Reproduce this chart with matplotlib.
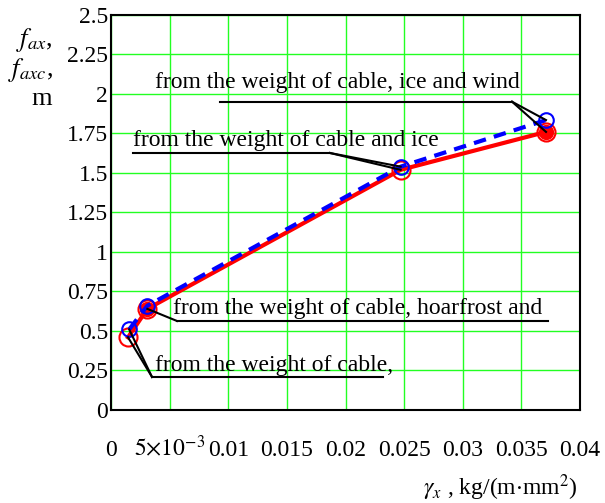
import matplotlib
matplotlib.use("Agg")
import matplotlib.pyplot as plt

plt.rcParams['font.family'] = ['Liberation Serif', 'DejaVu Serif']
plt.rcParams['mathtext.fontset'] = 'stix'

# Data
gamma_red = [0.00145, 0.0031, 0.0247, 0.0371]
f_red = [0.46, 0.64, 1.52, 1.76]
gamma_blue = [0.00155, 0.0031, 0.0247, 0.0371]
f_blue = [0.51, 0.66, 1.54, 1.835]

x_ticks = [0, 0.005, 0.01, 0.015, 0.02, 0.025, 0.03, 0.035, 0.04]
x_tick_labels = ["0", r"$5{\times}10^{-3}$", "0.01", "0.015", "0.02", "0.025", "0.03", "0.035", "0.04"]
y_ticks = [0, 0.25, 0.5, 0.75, 1, 1.25, 1.5, 1.75, 2, 2.25, 2.5]
y_tick_labels = ["0", "0.25", "0.5", "0.75", "1", "1.25", "1.5", "1.75", "2", "2.25", "2.5"]

labels = ["from the weight of cable, ice and wind",
          "from the weight of cable and ice",
          "from the weight of cable, hoarfrost and",
          "from the weight of cable,"]

FS = 17

fig = plt.figure(figsize=(6.05, 5.03), dpi=100)
ax = fig.add_axes([0.1835, 0.1849, 0.7752, 0.7853])
ax.set_xlim(0, 0.04)
ax.set_ylim(0, 2.5)

ax.grid(True, color='#22ff22', linewidth=1.0)
ax.set_axisbelow(True)
for s in ax.spines.values():
    s.set_color('black')
    s.set_linewidth(1.5)

ax.set_xticks(x_ticks)
ax.set_xticklabels(x_tick_labels, fontsize=FS)
for t in ax.get_xticklabels():
    t.set_verticalalignment('baseline')
ax.set_yticks(y_ticks)
ax.set_yticklabels(y_tick_labels, fontsize=FS)
ax.tick_params(axis='x', length=0, pad=33)
ax.tick_params(axis='y', length=0, pad=2)

# Series
ax.plot(gamma_red, f_red, color='red', linewidth=3, zorder=3)
ax.plot(gamma_red, f_red, linestyle='none', marker='o', markersize=13,
        markerfacecolor='none', markeredgecolor='red', markeredgewidth=1.5, zorder=4)
ax.plot([gamma_red[i] for i in (1, 3)], [f_red[i] for i in (1, 3)], linestyle='none',
        marker='o', markersize=10, markerfacecolor='red', markeredgecolor='red', zorder=4)
ax.plot(gamma_blue, f_blue, color='blue', linewidth=3, linestyle=(0, (3, 2)), zorder=5)
ax.plot(gamma_blue, f_blue, linestyle='none', marker='o', markersize=10.5,
        markerfacecolor='none', markeredgecolor='blue', markeredgewidth=1.5, zorder=6)

def px2d(px, py):
    return ((px - 111) / 469 * 0.04, (410 - py) / 158)

def label(text, tx, ty, ux0, ux1, uy, targets):
    x, y = px2d(tx, ty)
    ax.text(x, y, text, fontsize=FS, va='center', ha='left', zorder=7)
    a = px2d(ux0, uy)
    b = px2d(ux1, uy)
    ax.plot([a[0], b[0]], [a[1], b[1]], color='black', linewidth=1.5, zorder=7)
    for (gx, gy, anchor) in targets:
        s = a if anchor == 'left' else b
        ax.plot([s[0], gx], [s[1], gy], color='black', linewidth=1.5, zorder=7)

label(labels[0], 155, 83, 220, 512, 101.7,
      [(gamma_blue[3], f_blue[3], 'right'), (gamma_red[3], f_red[3], 'right')])
label(labels[1], 133, 141, 133, 330, 153,
      [(gamma_blue[2], f_blue[2], 'right'), (gamma_red[2], f_red[2], 'right')])
label(labels[2], 173, 309, 177, 548, 321,
      [(gamma_red[1], f_red[1], 'left')])
label(labels[3], 155, 366, 152, 383, 377,
      [(gamma_red[0], f_red[0], 'left'), (gamma_blue[0], f_blue[0], 'left')])

# Axis labels
fig.text(53 / 605, 1 - 40 / 503, r"$f_{ax}$,", fontsize=19, ha='right', va='center')
fig.text(53 / 605, 1 - 70 / 503, r"$f_{axc}$,", fontsize=19, ha='right', va='center')
fig.text(52 / 605, 1 - 99 / 503, "m", fontsize=19, ha='right', va='center')
fig.text(577 / 605, 1 - 488 / 503, r"$\gamma_x$ , kg/(m$\cdot$mm$^2$)", fontsize=FS,
         ha='right', va='center')

fig.savefig("out.png", dpi=100)
